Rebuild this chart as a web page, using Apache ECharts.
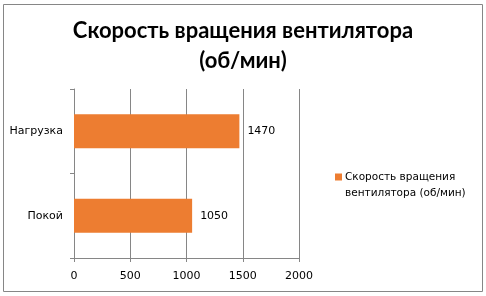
<!DOCTYPE html>
<html>
<head>
<meta charset="utf-8">
<script src="https://cdn.jsdelivr.net/npm/echarts@6/dist/echarts.min.js"></script>
<style>
  html, body { margin: 0; padding: 0; background: #fff; }
  #chart { width: 486px; height: 296px; }
</style>
</head>
<body>
<div id="chart"></div>
<script>
const categories = ['Покой', 'Нагрузка'];
const speeds = [1050, 1470];
const xTicks = { min: 0, max: 2000, interval: 500 };
const seriesName = 'Скорость вращения вентилятора (об/мин)';

const chart = echarts.init(document.getElementById('chart'), null, { renderer: 'canvas' });

const axisColor = '#868686';
const labelFont = 'Tahoma, "DejaVu Sans", Verdana, sans-serif';

// legend wraps like Excel: the square sits level with the first line only
const legendLines = ['Скорость вращения', 'вентилятора (об/мин)'];

const option = {
   animation: false,
   title: {
      text: 'Скорость вращения вентилятора\n(об/мин)',
      left: 'center',
      top: 11,
      textStyle: {
         fontFamily: 'Lato, "Noto Sans", sans-serif',
         fontWeight: 'bold',
         fontSize: 22,
         lineHeight: 30,
         color: '#000'
      }
   },
   graphic: [{
      type: 'rect',
      shape: { x: 3.5, y: 4.5, width: 479, height: 287 },
      style: { fill: 'none', stroke: axisColor, lineWidth: 1 },
      silent: true
   }, {
      type: 'text',
      left: 345,
      top: 185,
      silent: true,
      style: {
         text: legendLines[1],
         fontFamily: labelFont,
         fontSize: 10.5,
         lineHeight: 16,
         fill: '#000'
      }
   }],
   legend: {
      orient: 'vertical',
      left: 330,
      top: 164,
      itemWidth: 7,
      itemHeight: 7,
      icon: 'rect',
      formatter: function () {
         return legendLines[0];
      },
      textStyle: {
         fontFamily: labelFont,
         fontSize: 10.5,
         lineHeight: 16,
         color: '#000',
         padding: [0, 0, 0, -2]
      }
   },
   grid: {
      left: 74,
      right: 187,
      top: 89,
      bottom: 38,
      containLabel: false
   },
   xAxis: {
      type: 'value',
      min: xTicks.min,
      max: xTicks.max,
      interval: xTicks.interval,
      axisLine: { show: true, lineStyle: { color: axisColor } },
      axisTick: { show: true, length: 4, lineStyle: { color: axisColor } },
      splitLine: { show: true, lineStyle: { color: axisColor } },
      axisLabel: {
         fontFamily: labelFont,
         fontSize: 11,
         color: '#000',
         margin: 13,
         formatter: function (v) { return String(v); }
      }
   },
   yAxis: {
      type: 'category',
      data: categories,
      axisLine: { show: true, lineStyle: { color: axisColor } },
      axisTick: { show: true, length: 4, lineStyle: { color: axisColor } },
      axisLabel: {
         fontFamily: labelFont,
         fontSize: 11,
         color: '#000',
         margin: 11
      }
   },
   series: [{
      name: seriesName,
      type: 'bar',
      data: speeds,
      barWidth: '40%',
      itemStyle: { color: '#ED7D31' },
      label: {
         show: true,
         position: 'right',
         distance: 8,
         fontFamily: labelFont,
         fontSize: 11,
         color: '#000'
      }
   }]
};

chart.setOption(option);
</script>
</body>
</html>
